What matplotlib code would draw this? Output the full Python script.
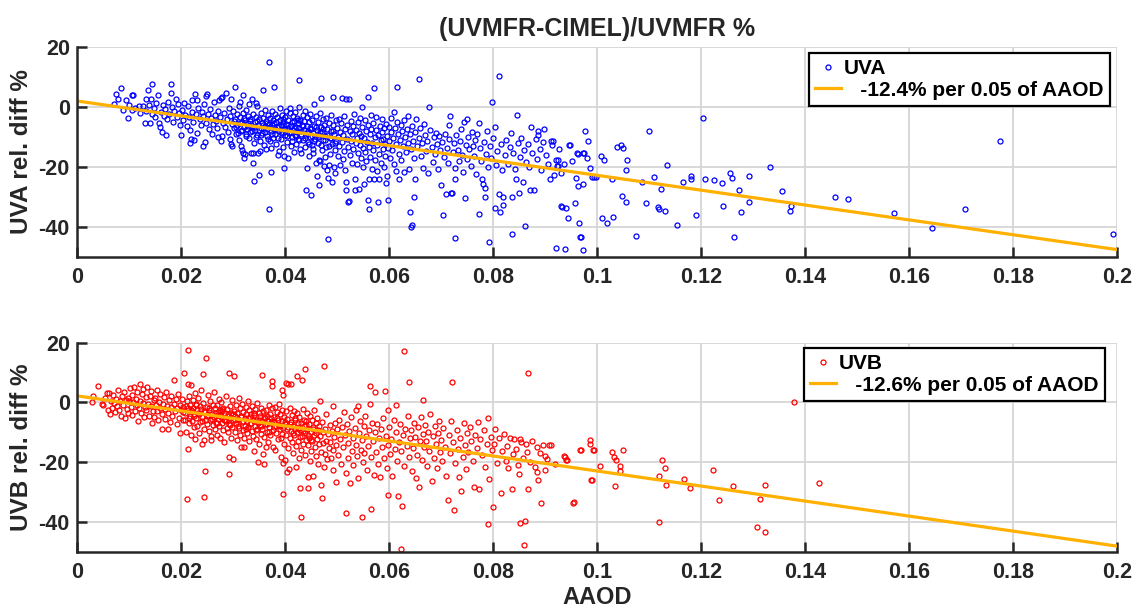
import matplotlib
matplotlib.use("Agg")
import matplotlib.pyplot as plt
import numpy as np

# (AAOD, relative difference %)
uva_points = [
    (0.0072, 0.8), (0.0076, 4.2), (0.0080, 2.6), (0.0085, 6.2), (0.0089, -1.0), (0.0094, 2.3), (0.0099, -3.9),
    (0.0101, 0.5), (0.0106, 3.8), (0.0108, 3.8), (0.0106, -1.1), (0.0112, -0.3), (0.0119, 0.2), (0.0122, -2.2),
    (0.0128, 0.2), (0.0131, -5.3), (0.0134, 2.4), (0.0134, -1.6), (0.0137, 5.7), (0.0138, 0.6), (0.0140, -5.3),
    (0.0142, 2.7), (0.0144, 7.7), (0.0145, -2.5), (0.0148, -0.6), (0.0150, -3.3), (0.0153, 1.1), (0.0156, 3.8),
    (0.0158, -5.3), (0.0160, -6.9), (0.0162, -1.8), (0.0164, -8.4), (0.0166, 0.4), (0.0168, -3.0), (0.0170, -0.9),
    (0.0172, -9.6), (0.0174, -4.1), (0.0176, 1.6), (0.0178, -2.4), (0.0181, 7.7), (0.0181, 4.4), (0.0183, -0.2),
    (0.0185, -5.0), (0.0187, -1.5), (0.0190, 2.6), (0.0192, -3.6), (0.0195, 0.9), (0.0197, -2.1), (0.0199, -6.2),
    (0.0201, -9.6),
    (0.0203, -1.0), (0.0205, -4.4), (0.0207, 1.3), (0.0209, -2.8), (0.0211, -6.5), (0.0213, 0.2), (0.0215, -3.5),
    (0.0217, -7.8), (0.0218, -12.0), (0.0219, -10.7), (0.0221, -1.7), (0.0222, 2.2), (0.0224, -5.0), (0.0226, -11.1),
    (0.0228, 4.2), (0.0229, -2.6), (0.0231, 2.1), (0.0232, -8.8), (0.0234, -0.5), (0.0236, -4.0), (0.0238, -6.1),
    (0.0240, -1.9), (0.0242, -3.0), (0.0243, -13.1), (0.0245, 0.8), (0.0246, -11.9), (0.0248, -5.4), (0.0249, 3.6),
    (0.0251, 4.2), (0.0252, -2.4), (0.0254, -7.3), (0.0256, -0.9), (0.0258, -3.8), (0.0260, -9.2), (0.0261, -5.9),
    (0.0263, 1.5), (0.0265, -2.9), (0.0267, -4.7), (0.0269, -7.0), (0.0271, -1.3), (0.0272, -10.1), (0.0274, 2.1),
    (0.0275, -3.4), (0.0277, 2.8), (0.0278, -11.4), (0.0279, -9.8), (0.0280, 3.3), (0.0281, -5.6), (0.0283, -2.0),
    (0.0285, -6.7), (0.0287, 4.4), (0.0288, -4.2), (0.0290, -8.4), (0.0292, -0.4), (0.0294, -10.7), (0.0295, -3.1),
    (0.0296, -12.6), (0.0297, 2.6), (0.0298, -5.8), (0.0299, -13.1),
    (0.0301, -1.6), (0.0302, -7.2), (0.0304, 6.4), (0.0305, -4.0), (0.0306, -9.0), (0.0308, -2.6), (0.0309, -6.0),
    (0.0311, 0.3), (0.0312, -11.0), (0.0313, -3.5), (0.0314, 1.6), (0.0315, -8.0), (0.0316, -13.1), (0.0317, -5.1),
    (0.0318, -14.6), (0.0319, -15.6), (0.0319, 3.8), (0.0320, -2.0), (0.0321, -6.8), (0.0322, -17.3), (0.0323, -4.4),
    (0.0324, -15.9), (0.0325, -9.8), (0.0326, -1.2), (0.0327, -7.5), (0.0329, -3.0), (0.0330, -5.6), (0.0331, -10.4),
    (0.0332, 0.9), (0.0333, -8.6), (0.0334, -4.0), (0.0335, -15.6), (0.0336, -6.3), (0.0337, 2.6), (0.0338, -18.8),
    (0.0338, -15.6), (0.0339, -2.4), (0.0340, -12.2), (0.0341, -24.8), (0.0342, -5.0), (0.0343, -7.9), (0.0344, -3.3),
    (0.0345, 1.1), (0.0346, -9.5), (0.0347, 0.2), (0.0348, -6.0), (0.0349, -15.3), (0.0350, -4.2), (0.0351, -22.8),
    (0.0352, -11.3), (0.0353, -14.7), (0.0354, -7.0), (0.0355, -2.0), (0.0356, -5.4), (0.0357, -8.8), (0.0358, 5.6),
    (0.0359, -3.7), (0.0360, -12.8), (0.0361, -6.5), (0.0362, -1.0), (0.0363, -14.0), (0.0364, -4.8), (0.0365, -9.9),
    (0.0366, -7.4), (0.0367, -2.9), (0.0369, -34.3), (0.0369, -5.8), (0.0370, 14.9), (0.0371, -11.6), (0.0372, -3.8),
    (0.0373, -21.7), (0.0373, -8.2), (0.0374, -13.8), (0.0375, -6.1), (0.0376, -1.6), (0.0377, -10.5), (0.0378, -4.5),
    (0.0379, -7.3), (0.0380, 6.4), (0.0381, -2.4), (0.0382, -9.1), (0.0383, -5.2), (0.0384, -12.3), (0.0385, -3.4),
    (0.0386, -6.9), (0.0387, -16.1), (0.0388, -14.9), (0.0389, -8.0), (0.0390, -0.5), (0.0391, -4.6), (0.0392, -10.9),
    (0.0393, -6.2), (0.0394, -2.8), (0.0395, -8.7), (0.0396, -5.0), (0.0397, -13.5), (0.0398, -7.6), (0.0399, -16.6),
    (0.0399, -20.6),
    (0.0303, -4.8), (0.0307, -6.9), (0.0310, -8.8), (0.0314, -5.5), (0.0318, -7.9), (0.0322, -3.9), (0.0326, -9.1),
    (0.0329, -6.4), (0.0333, -4.7), (0.0337, -8.1), (0.0340, -6.7), (0.0344, -10.1), (0.0347, -4.9), (0.0351, -7.7),
    (0.0355, -9.4), (0.0358, -6.2), (0.0362, -8.5), (0.0365, -5.3), (0.0368, -10.8), (0.0372, -6.8), (0.0375, -9.0),
    (0.0379, -5.6), (0.0382, -7.9), (0.0386, -10.3), (0.0389, -6.6), (0.0393, -8.4), (0.0396, -4.1),
    (0.0400, -3.6), (0.0401, -9.4), (0.0402, -5.8), (0.0403, -1.3), (0.0404, -11.8), (0.0405, -7.1), (0.0406, -17.0),
    (0.0407, -4.3), (0.0408, -8.9), (0.0409, -2.2), (0.0410, -0.6), (0.0411, -6.4), (0.0412, -13.0), (0.0413, -5.1),
    (0.0414, -10.1), (0.0415, -3.0), (0.0416, -7.7), (0.0417, -15.2), (0.0418, -4.9), (0.0419, -9.6), (0.0420, -1.9),
    (0.0421, -6.8), (0.0422, -12.4), (0.0423, -3.9), (0.0424, -8.3), (0.0425, -5.5), (0.0426, -10.8), (0.0427, 0.0),
    (0.0428, 8.9), (0.0428, -7.2), (0.0429, -14.1), (0.0430, -4.4), (0.0431, -9.0), (0.0432, -15.6), (0.0433, -6.0),
    (0.0434, -2.7), (0.0435, -11.2), (0.0436, -7.9), (0.0437, -4.8), (0.0438, -13.3), (0.0439, -1.4), (0.0440, -9.3),
    (0.0441, -27.7), (0.0442, -20.6), (0.0442, -6.6), (0.0443, -3.5), (0.0444, -11.7), (0.0445, -8.1), (0.0446, -5.2),
    (0.0447, -16.4), (0.0448, -10.2), (0.0449, -2.5), (0.0450, -7.4), (0.0451, -29.4), (0.0452, -12.9), (0.0453, -4.6),
    (0.0454, -14.0), (0.0454, -15.3), (0.0455, -8.7), (0.0456, 0.9), (0.0457, -6.3), (0.0458, -10.9), (0.0459, -3.2),
    (0.0460, -18.7), (0.0461, -7.8), (0.0462, -23.2), (0.0463, -5.0), (0.0464, -12.1), (0.0465, -17.9), (0.0465, -26.2),
    (0.0466, -9.4), (0.0467, -18.2), (0.0468, -2.0), (0.0469, -6.7), (0.0470, 2.8), (0.0471, -14.6), (0.0472, -8.3),
    (0.0473, -4.1), (0.0474, -11.0), (0.0475, -19.9), (0.0476, -6.0), (0.0477, -16.9), (0.0478, -9.8), (0.0479, -3.7),
    (0.0480, -13.6), (0.0481, -7.3), (0.0482, -21.0), (0.0483, -23.9), (0.0483, -44.0), (0.0484, -5.4), (0.0485, -19.4),
    (0.0486, -10.6), (0.0487, -15.8), (0.0488, -2.9), (0.0489, -8.0), (0.0490, -25.3), (0.0491, -12.5), (0.0492, -6.2),
    (0.0493, 3.1), (0.0494, -20.2), (0.0495, -9.1), (0.0496, -14.3), (0.0497, -22.1), (0.0498, -4.5), (0.0499, -11.4),
    (0.0400, -7.5), (0.0404, -9.7), (0.0407, -6.1), (0.0411, -8.6), (0.0414, -11.5), (0.0418, -7.0), (0.0421, -9.9),
    (0.0425, -4.6), (0.0428, -11.0), (0.0432, -8.1), (0.0435, -6.5), (0.0439, -10.6), (0.0442, -8.8), (0.0446, -12.3),
    (0.0449, -7.0), (0.0453, -9.8), (0.0456, -11.6), (0.0460, -6.8), (0.0463, -10.0), (0.0467, -8.5), (0.0470, -12.8),
    (0.0474, -7.6), (0.0478, -11.2), (0.0481, -9.3), (0.0485, -13.0), (0.0489, -10.4), (0.0493, -8.2), (0.0497, -12.0),
    (0.0501, -7.0), (0.0502, -16.5), (0.0503, -10.0), (0.0504, -4.0), (0.0505, -13.2), (0.0506, -19.5), (0.0507, -8.6),
    (0.0508, -5.6), (0.0509, -11.9), (0.0510, 2.8), (0.0511, -17.4), (0.0512, -9.6), (0.0513, -3.0), (0.0514, -14.8),
    (0.0515, -7.5), (0.0516, -21.0), (0.0517, -25.0), (0.0517, -27.7), (0.0518, 2.7), (0.0519, -10.9), (0.0520, -6.2),
    (0.0521, -31.9), (0.0522, -13.6), (0.0523, 2.7), (0.0524, -31.6), (0.0525, -8.2), (0.0526, -16.0), (0.0527, -4.8),
    (0.0528, -11.4), (0.0529, -18.7), (0.0530, -9.0), (0.0531, -6.5), (0.0532, -14.1), (0.0533, -2.3), (0.0534, -27.7),
    (0.0535, -24.0), (0.0536, -12.0), (0.0537, -7.8), (0.0538, -19.0), (0.0539, -10.3), (0.0540, -5.1), (0.0541, -15.5),
    (0.0542, -8.9), (0.0543, -27.4), (0.0544, -12.8), (0.0545, -3.7), (0.0546, -17.2), (0.0547, -9.8), (0.0548, 0.0),
    (0.0549, -6.9), (0.0550, -13.9), (0.0551, -20.3), (0.0552, -25.8), (0.0553, -10.6), (0.0554, -4.5), (0.0555, -15.0),
    (0.0556, -8.0), (0.0557, -18.3), (0.0558, -11.7), (0.0559, 3.1), (0.0559, -31.0), (0.0560, -6.0), (0.0561, -34.1),
    (0.0561, -24.0), (0.0562, -13.3), (0.0563, -9.2), (0.0564, -16.7), (0.0565, -2.8), (0.0566, -7.4), (0.0567, -20.8),
    (0.0568, -12.2), (0.0569, -5.3), (0.0570, -14.6), (0.0572, 6.2), (0.0572, -24.0), (0.0573, -10.1), (0.0574, -17.8),
    (0.0575, -7.9), (0.0576, -3.5), (0.0577, -12.9), (0.0578, -21.4), (0.0579, -9.5), (0.0580, -31.9), (0.0581, -15.7),
    (0.0582, -24.0), (0.0583, -6.6), (0.0584, -11.1), (0.0585, -18.9), (0.0586, -4.2), (0.0587, -8.6), (0.0588, -14.0),
    (0.0589, -10.7), (0.0590, -20.0), (0.0591, -7.1), (0.0592, -12.5), (0.0593, -16.3), (0.0594, -5.8), (0.0595, -25.4),
    (0.0596, -9.9), (0.0597, -23.1), (0.0598, -13.7), (0.0599, -31.2),
    (0.0600, -6.8), (0.0601, -11.5), (0.0603, -17.0), (0.0604, -3.9), (0.0605, -8.4), (0.0607, -14.4), (0.0608, -10.3),
    (0.0609, -1.9), (0.0610, -19.2), (0.0612, -7.0), (0.0613, -21.6), (0.0614, -12.6), (0.0615, 6.7), (0.0616, -5.0),
    (0.0618, -9.2), (0.0619, -15.9), (0.0620, -24.3), (0.0621, -11.0), (0.0623, -6.0), (0.0624, -17.8), (0.0626, -8.1),
    (0.0627, -13.2), (0.0629, -21.7), (0.0630, -4.6), (0.0631, -10.0), (0.0633, -15.1), (0.0634, -7.4), (0.0636, -12.0),
    (0.0637, -3.2), (0.0639, -20.8), (0.0640, -35.0), (0.0641, -9.0), (0.0642, -40.3), (0.0643, -14.0), (0.0645, -39.6),
    (0.0645, -6.3), (0.0647, -11.3), (0.0648, -30.3), (0.0649, -17.2), (0.0650, -24.3), (0.0651, -8.3), (0.0653, -4.0),
    (0.0655, -13.0), (0.0657, 9.3), (0.0658, -10.5), (0.0660, -7.0), (0.0662, -16.3), (0.0664, -12.2), (0.0666, -20.5),
    (0.0668, -5.7), (0.0670, -9.4), (0.0672, -14.8), (0.0674, -11.5), (0.0676, -22.0), (0.0678, 0.0), (0.0680, -7.9),
    (0.0682, -13.5), (0.0684, -18.4), (0.0686, -10.2), (0.0688, -15.9), (0.0690, -8.7), (0.0692, -12.6), (0.0694, -20.9),
    (0.0696, -9.9), (0.0698, -14.3), (0.0700, -26.2),
    (0.0702, -11.8), (0.0704, -36.2), (0.0706, -16.8), (0.0708, -9.0), (0.0709, -29.3), (0.0711, -13.9), (0.0713, -18.8),
    (0.0715, -10.7), (0.0716, -6.0), (0.0718, -3.1), (0.0720, -28.7), (0.0722, -28.7), (0.0723, -15.2), (0.0725, -12.0),
    (0.0727, -20.4), (0.0728, -24.0), (0.0728, -43.9), (0.0730, -9.6), (0.0732, -14.5), (0.0734, -18.0), (0.0736, -11.3),
    (0.0738, -7.5), (0.0740, -16.1), (0.0742, -21.9), (0.0744, -5.2), (0.0746, -30.6), (0.0748, -12.7), (0.0750, -17.4),
    (0.0751, -4.1), (0.0753, -10.0), (0.0755, -14.0), (0.0757, -19.8), (0.0760, -8.6), (0.0762, -13.1), (0.0764, -16.6),
    (0.0766, -11.1), (0.0768, -22.5), (0.0770, -9.2), (0.0773, -5.6), (0.0774, -35.8), (0.0776, -13.8), (0.0778, -18.2),
    (0.0779, -24.0), (0.0781, -25.7), (0.0783, -11.9), (0.0785, -27.3), (0.0785, -30.3), (0.0787, -15.7), (0.0789, -8.0),
    (0.0791, -20.0), (0.0793, -45.1), (0.0795, -13.0), (0.0797, -17.0), (0.0799, 1.4),
    (0.0801, -10.4), (0.0804, -6.9), (0.0804, -33.7), (0.0806, -19.4), (0.0808, -14.8), (0.0811, -29.3), (0.0812, 10.3),
    (0.0814, -35.3), (0.0816, -12.4), (0.0818, -21.3), (0.0820, -32.9), (0.0820, -30.0), (0.0823, -16.0), (0.0826, -11.0),
    (0.0829, -19.0), (0.0832, -13.5), (0.0834, -8.9), (0.0836, -30.0), (0.0837, -42.6), (0.0839, -15.3), (0.0842, -20.8),
    (0.0845, -24.1), (0.0846, -2.7), (0.0848, -12.0), (0.0850, -28.7), (0.0852, -16.9), (0.0855, -10.3), (0.0857, -25.2),
    (0.0859, -14.4), (0.0861, -39.9), (0.0864, -18.5), (0.0867, -12.6), (0.0869, -20.3), (0.0871, -27.9), (0.0873, -6.9),
    (0.0876, -15.5), (0.0879, -27.7), (0.0882, -10.7), (0.0884, -17.6), (0.0886, -8.1), (0.0887, -9.4), (0.0890, -14.1),
    (0.0893, -21.2), (0.0896, -11.8), (0.0899, -7.4), (0.0902, -16.2), (0.0905, -19.0), (0.0909, -24.0), (0.0912, -11.4),
    (0.0914, -12.8), (0.0915, -11.6), (0.0918, -22.7), (0.0921, -47.0), (0.0922, -17.8), (0.0924, -19.8), (0.0925, -17.9),
    (0.0925, -19.7), (0.0928, -14.0), (0.0931, -33.3), (0.0931, -22.3), (0.0933, -33.4), (0.0936, -19.2), (0.0938, -47.4),
    (0.0940, -33.9), (0.0945, -37.2), (0.0947, -12.8), (0.0949, -12.9), (0.0952, -18.3), (0.0957, -32.1), (0.0959, -23.8),
    (0.0961, -15.6), (0.0963, -15.7), (0.0964, -26.4), (0.0966, -38.9), (0.0968, -43.4), (0.0970, -43.6), (0.0973, -15.3),
    (0.0973, -25.9), (0.0973, -47.8), (0.0975, -15.4), (0.0978, -8.2), (0.0981, -17.3), (0.0982, -11.4), (0.0986, -20.6),
    (0.0990, -23.4), (0.0995, -23.5), (0.0999, -23.4),
    (0.1008, -16.4), (0.1010, -37.3), (0.1014, -17.9), (0.1019, -38.8), (0.1029, -24.2), (0.1031, -36.7), (0.1038, -13.4),
    (0.1046, -12.9), (0.1048, -29.9), (0.1050, -13.8), (0.1055, -21.2), (0.1055, -31.8), (0.1058, -17.9), (0.1075, -43.3),
    (0.1086, -25.3), (0.1095, -32.2), (0.1101, -8.0), (0.1109, -23.6), (0.1117, -33.6), (0.1119, -34.0), (0.1123, -27.4),
    (0.1131, -34.7), (0.1134, -19.4), (0.1154, -39.4), (0.1165, -25.3), (0.1180, -23.3), (0.1181, -24.1), (0.1190, -36.3),
    (0.1203, -3.7), (0.1207, -24.3), (0.1225, -24.6), (0.1240, -25.4), (0.1243, -33.0), (0.1256, -22.3), (0.1260, -23.7),
    (0.1264, -43.6), (0.1274, -27.7), (0.1277, -35.2), (0.1293, -23.1), (0.1293, -31.8), (0.1333, -20.0), (0.1356, -28.2),
    (0.1372, -34.7), (0.1373, -33.2), (0.1458, -30.3), (0.1483, -30.8), (0.1571, -35.6), (0.1645, -40.4), (0.1708, -34.2),
    (0.1775, -11.6), (0.1993, -42.6),
]

uvb_points = [
    (0.0029, 0.2), (0.0031, 2.2), (0.0041, 5.6), (0.0048, -0.6), (0.0051, -0.9), (0.0055, 1.6), (0.0058, 3.3),
    (0.0060, -2.4), (0.0062, 3.0), (0.0063, -4.0), (0.0065, 0.6), (0.0067, -1.8), (0.0069, 2.4), (0.0071, -0.2),
    (0.0073, -3.2), (0.0075, 1.2), (0.0077, -1.2), (0.0079, 4.1), (0.0081, -2.6), (0.0083, 0.3), (0.0085, -4.7),
    (0.0087, 2.0), (0.0088, -1.0), (0.0090, 3.4), (0.0092, -5.2), (0.0094, 0.9), (0.0096, -2.2), (0.0098, 1.6),
    (0.0099, -3.6),
    (0.0101, 0.4), (0.0103, 4.8), (0.0104, -1.4), (0.0106, 2.5), (0.0107, -4.2), (0.0109, 0.0), (0.0110, 5.2),
    (0.0112, -2.9), (0.0113, 1.3), (0.0115, -0.8), (0.0116, 3.6), (0.0118, -6.3), (0.0119, -1.9), (0.0121, 6.2),
    (0.0122, 0.6), (0.0124, -3.4), (0.0125, 2.9), (0.0127, -0.3), (0.0128, 4.5), (0.0130, -5.0), (0.0131, -1.6),
    (0.0133, 1.8), (0.0134, -2.6), (0.0136, 5.0), (0.0137, -0.5), (0.0139, -4.4), (0.0140, 2.2), (0.0142, -1.1),
    (0.0143, 3.9), (0.0145, -7.0), (0.0146, -2.8), (0.0148, 0.9), (0.0149, -4.8), (0.0151, 1.5), (0.0152, -0.9),
    (0.0154, 4.2), (0.0155, -3.0), (0.0157, -6.0), (0.0158, 0.2), (0.0160, -1.8), (0.0161, 2.7), (0.0163, -4.0),
    (0.0164, -8.8), (0.0166, -0.6), (0.0167, 1.9), (0.0169, -2.3), (0.0170, -5.6), (0.0172, 3.4), (0.0173, -1.2),
    (0.0175, -9.0), (0.0176, -3.4), (0.0178, 0.7), (0.0179, -6.6), (0.0181, 2.0), (0.0182, -1.5), (0.0184, -4.6),
    (0.0186, 7.4), (0.0187, -0.4), (0.0189, -3.0), (0.0190, 1.3), (0.0192, -7.4), (0.0193, -2.0), (0.0195, 2.7),
    (0.0196, -5.1), (0.0198, -0.8), (0.0199, -10.3),
    (0.0201, -2.6), (0.0202, 1.0), (0.0204, -5.9), (0.0205, -1.4), (0.0207, 9.9), (0.0208, -5.9), (0.0209, -3.4),
    (0.0210, -9.9), (0.0211, 0.3), (0.0212, -32.3), (0.0213, 17.7), (0.0213, 6.3), (0.0213, -15.6), (0.0214, -2.0),
    (0.0215, -7.0), (0.0216, 2.0), (0.0217, -4.4), (0.0218, -0.8), (0.0219, -11.0), (0.0220, 5.8), (0.0221, -3.0),
    (0.0222, -6.2), (0.0223, 0.9), (0.0224, -1.9), (0.0225, -8.4), (0.0226, -4.0), (0.0227, 3.0), (0.0228, -12.2),
    (0.0229, -0.4), (0.0230, -5.4), (0.0231, -2.6), (0.0232, -7.8), (0.0233, 1.6), (0.0234, -3.6), (0.0235, -10.2),
    (0.0236, -1.2), (0.0237, -6.6), (0.0238, 4.0), (0.0239, -2.2), (0.0240, -14.0), (0.0241, -4.8), (0.0242, -0.2),
    (0.0243, 9.4), (0.0244, -8.9), (0.0245, -12.7), (0.0245, -31.8), (0.0246, -3.1), (0.0247, -23.0), (0.0248, -5.9),
    (0.0249, 14.8), (0.0250, -1.5), (0.0251, -7.2), (0.0252, 2.4), (0.0253, -4.1), (0.0254, -9.6), (0.0255, -2.7),
    (0.0256, -6.0), (0.0257, 0.6), (0.0258, -11.3), (0.0259, -12.7), (0.0260, -3.8), (0.0261, -1.0), (0.0262, -7.7),
    (0.0263, -5.0), (0.0264, 3.4), (0.0265, -2.0), (0.0266, -9.0), (0.0267, -4.4), (0.0268, -6.8), (0.0269, -0.8),
    (0.0270, -10.8), (0.0271, -3.3), (0.0272, -5.5), (0.0273, 1.2), (0.0274, -8.0), (0.0275, -2.5), (0.0276, -12.0),
    (0.0277, -4.9), (0.0278, 0.0), (0.0279, -7.0), (0.0280, -3.0), (0.0281, -9.4), (0.0282, -1.8), (0.0283, -5.8),
    (0.0284, -13.4), (0.0285, -3.7), (0.0286, 2.0), (0.0287, -6.4), (0.0288, -8.6), (0.0289, -2.3), (0.0290, -10.0),
    (0.0291, -4.6), (0.0292, 9.9), (0.0292, -18.4), (0.0292, -23.9), (0.0293, -7.3), (0.0294, -1.2), (0.0295, -5.2),
    (0.0296, -11.8), (0.0297, -3.4), (0.0298, 0.8), (0.0299, -8.1),
    (0.0205, -3.3), (0.0210, -1.1), (0.0215, -5.2), (0.0220, -2.6), (0.0225, -4.6), (0.0230, -0.9), (0.0235, -3.9),
    (0.0240, -6.3), (0.0245, -2.9), (0.0250, -4.7), (0.0255, -1.8), (0.0260, -5.6), (0.0265, -3.6), (0.0270, -6.8),
    (0.0275, -4.2), (0.0280, -2.1), (0.0285, -6.0), (0.0290, -4.0), (0.0295, -7.5),
    (0.0300, -6.0), (0.0301, -18.9), (0.0302, -2.8), (0.0303, 8.9), (0.0304, -9.8), (0.0305, -4.5), (0.0306, -1.0),
    (0.0307, -7.0), (0.0308, -12.6), (0.0309, -3.6), (0.0310, -5.6), (0.0311, 1.6), (0.0312, -8.6), (0.0313, -2.0),
    (0.0314, -10.8), (0.0315, -14.9), (0.0316, -4.8), (0.0317, -6.6), (0.0318, -0.4), (0.0319, -9.2), (0.0320, -3.2),
    (0.0321, -12.0), (0.0322, -14.9), (0.0323, -5.4), (0.0324, -7.8), (0.0325, -1.6), (0.0326, -4.0), (0.0327, -10.4),
    (0.0328, -6.2), (0.0329, 0.6), (0.0330, -8.4), (0.0331, -2.6), (0.0332, -13.0), (0.0333, -5.0), (0.0334, -7.2),
    (0.0335, -3.8), (0.0336, -9.6), (0.0337, -1.2), (0.0338, -11.2), (0.0339, -6.0), (0.0340, -16.2), (0.0341, -4.2),
    (0.0342, -8.0), (0.0343, -2.2), (0.0344, -12.4), (0.0345, -5.8), (0.0346, -0.2), (0.0347, -9.0), (0.0348, -6.8),
    (0.0349, -20.0), (0.0350, -3.4), (0.0351, -14.0), (0.0352, -7.6), (0.0353, -4.6), (0.0354, -10.6), (0.0355, -1.8),
    (0.0356, 9.2), (0.0356, -6.4), (0.0357, -8.8), (0.0358, -17.2), (0.0359, -3.0), (0.0360, -20.6), (0.0360, -11.6),
    (0.0361, -5.4), (0.0362, -7.4), (0.0363, -15.0), (0.0364, -2.6), (0.0365, -9.8), (0.0366, -4.4), (0.0367, -6.2),
    (0.0368, -13.2), (0.0369, -0.8), (0.0370, -8.2), (0.0371, -3.8), (0.0372, -11.0), (0.0373, -5.2), (0.0374, -7.0),
    (0.0375, -2.0), (0.0376, 7.1), (0.0376, 5.6), (0.0377, -14.9), (0.0378, -9.4), (0.0379, -4.8), (0.0380, -6.6),
    (0.0381, -16.0), (0.0382, -1.4), (0.0383, -10.2), (0.0384, -8.0), (0.0385, -3.2), (0.0386, -12.4), (0.0387, -5.8),
    (0.0388, -7.6), (0.0389, -0.4), (0.0390, -9.0), (0.0391, -4.0), (0.0392, -18.2), (0.0393, -11.8), (0.0394, 4.1),
    (0.0394, -6.4), (0.0395, -2.4), (0.0396, 2.4), (0.0396, -20.3), (0.0397, -30.8), (0.0397, -8.6), (0.0398, -13.8),
    (0.0399, -5.0),
    (0.0300, -3.8), (0.0305, -5.9), (0.0310, -8.0), (0.0315, -4.4), (0.0320, -6.4), (0.0325, -8.9), (0.0330, -5.2),
    (0.0335, -7.0), (0.0340, -3.6), (0.0345, -9.2), (0.0350, -6.0), (0.0355, -8.0), (0.0360, -4.8), (0.0365, -7.2),
    (0.0370, -10.0), (0.0375, -6.2), (0.0380, -8.4), (0.0385, -5.4), (0.0390, -7.8), (0.0395, -10.6),
    (0.0400, -19.4), (0.0401, -7.2), (0.0402, 6.6), (0.0402, -3.0), (0.0403, -10.8), (0.0404, -23.4), (0.0405, -5.6),
    (0.0406, 6.3), (0.0406, -8.4), (0.0407, -15.2), (0.0408, -22.3), (0.0409, -1.8), (0.0410, -12.0), (0.0411, 6.1),
    (0.0411, -6.6), (0.0412, -9.6), (0.0413, -4.2), (0.0414, -13.4), (0.0415, -7.8), (0.0416, -17.0), (0.0417, -2.8),
    (0.0418, -11.0), (0.0419, -5.4), (0.0420, -8.8), (0.0421, -21.8), (0.0422, -14.6), (0.0423, -3.6), (0.0424, 9.0),
    (0.0424, -10.0), (0.0425, -6.8), (0.0426, -12.8), (0.0427, -18.6), (0.0428, -4.8), (0.0429, -28.8), (0.0430, -9.2),
    (0.0431, -38.4), (0.0431, -7.0), (0.0432, -15.8), (0.0433, 7.6), (0.0433, -11.4), (0.0434, -2.2), (0.0435, -13.8),
    (0.0436, -8.0), (0.0437, -5.8), (0.0438, 11.2), (0.0438, -17.8), (0.0439, -10.4), (0.0440, -6.2), (0.0441, -12.6),
    (0.0442, -3.4), (0.0443, -9.0), (0.0444, -28.7), (0.0445, -25.1), (0.0445, -14.4), (0.0446, -7.4), (0.0447, -11.8),
    (0.0448, -19.6), (0.0449, -4.6), (0.0450, -9.8), (0.0451, -16.2), (0.0452, -6.0), (0.0453, -13.0), (0.0454, -24.7),
    (0.0455, -8.4), (0.0456, -10.8), (0.0457, -2.6), (0.0458, -15.0), (0.0459, -7.0), (0.0460, -18.0), (0.0461, -12.2),
    (0.0462, -5.2), (0.0463, -9.4), (0.0464, -20.8), (0.0465, -14.0), (0.0466, -8.0), (0.0467, 0.4), (0.0468, -11.2),
    (0.0469, -27.8), (0.0470, -16.8), (0.0471, -32.2), (0.0472, -6.6), (0.0473, -13.6), (0.0474, -10.0), (0.0475, -21.8),
    (0.0476, 12.1), (0.0477, -17.4), (0.0478, -8.8), (0.0479, -12.8), (0.0480, -4.0), (0.0482, -19.0), (0.0483, -10.6),
    (0.0484, -15.4), (0.0486, -7.6), (0.0487, -13.2), (0.0489, -18.6), (0.0490, -9.6), (0.0492, -1.1), (0.0492, -22.7),
    (0.0493, -16.0), (0.0495, -11.6), (0.0496, -6.8), (0.0498, -26.8), (0.0499, -14.4),
    (0.0400, -6.6), (0.0405, -9.0), (0.0410, -7.4), (0.0415, -10.2), (0.0420, -6.0), (0.0425, -8.6), (0.0430, -11.6),
    (0.0435, -9.6), (0.0440, -7.6), (0.0445, -11.0), (0.0450, -12.6), (0.0455, -9.0), (0.0460, -10.4),
    (0.0501, -9.0), (0.0503, -17.6), (0.0505, -5.8), (0.0506, -12.4), (0.0508, -20.8), (0.0510, -8.2), (0.0511, -15.0),
    (0.0513, -3.2), (0.0515, -11.0), (0.0517, -23.8), (0.0518, -37.1), (0.0519, -7.2), (0.0521, -18.8), (0.0522, -13.6),
    (0.0524, -9.6), (0.0526, -27.0), (0.0527, -5.0), (0.0529, -16.4), (0.0531, -11.8), (0.0532, -21.0), (0.0534, -8.6),
    (0.0536, -14.2), (0.0537, -2.6), (0.0539, -18.0), (0.0540, -1.3), (0.0541, -25.4), (0.0542, -10.4), (0.0544, -6.4),
    (0.0546, -15.8), (0.0548, -38.4), (0.0548, -12.6), (0.0550, -20.0), (0.0552, -8.0), (0.0553, -17.0), (0.0555, -4.4),
    (0.0557, -11.2), (0.0558, -22.6), (0.0560, -14.6), (0.0562, -9.2), (0.0563, 5.4), (0.0564, -0.4), (0.0565, -18.4),
    (0.0566, -35.6), (0.0567, -6.8), (0.0569, -13.0), (0.0571, -24.4), (0.0573, -10.0), (0.0574, 3.4), (0.0575, -16.6),
    (0.0577, -7.4), (0.0579, -20.6), (0.0581, -12.0), (0.0583, -25.0), (0.0585, -9.0), (0.0587, -15.0), (0.0589, -5.2),
    (0.0591, -18.8), (0.0593, 3.7), (0.0594, -11.4), (0.0596, -22.0), (0.0598, -14.2), (0.0599, -2.7), (0.0599, -31.2),
    (0.0601, -8.4), (0.0603, -17.4), (0.0605, -12.2), (0.0607, -24.6), (0.0609, -6.0), (0.0611, -15.6), (0.0613, -10.0),
    (0.0614, -0.8), (0.0616, -19.8), (0.0617, -31.3), (0.0619, -13.4), (0.0621, -7.2), (0.0623, -49.0), (0.0624, -16.4),
    (0.0626, -34.9), (0.0627, -11.0), (0.0629, -21.4), (0.0630, 17.3), (0.0632, -8.8), (0.0634, -14.6), (0.0636, -4.6),
    (0.0638, -18.2), (0.0639, 6.8), (0.0641, -12.0), (0.0643, -9.4), (0.0645, -23.0), (0.0647, -15.4), (0.0649, -6.8),
    (0.0650, -11.6), (0.0652, -25.3), (0.0654, -17.8), (0.0656, -8.2), (0.0657, -28.4), (0.0659, -13.0), (0.0661, -5.0),
    (0.0663, -19.2), (0.0665, -10.6), (0.0666, 0.8), (0.0668, -15.0), (0.0670, -7.6), (0.0672, -12.8), (0.0674, -21.2),
    (0.0676, -9.8), (0.0678, -16.2), (0.0680, -4.0), (0.0682, -26.2), (0.0684, -11.4), (0.0686, -18.6), (0.0688, -8.0),
    (0.0690, -14.0), (0.0692, -22.0), (0.0694, -10.2), (0.0696, -6.2), (0.0698, -16.8),
    (0.0700, -12.6), (0.0703, -19.6), (0.0705, -8.6), (0.0708, -14.8), (0.0710, -24.8), (0.0713, -32.8), (0.0715, -10.8),
    (0.0718, -17.0), (0.0720, -6.4), (0.0722, 6.8), (0.0724, -13.4), (0.0726, -36.1), (0.0728, -20.2), (0.0731, -9.4),
    (0.0733, -15.6), (0.0735, -25.0), (0.0737, -11.8), (0.0739, -29.7), (0.0742, -18.4), (0.0744, -7.0), (0.0746, -14.2),
    (0.0749, -22.4), (0.0751, -10.4), (0.0753, -16.6), (0.0756, -8.2), (0.0758, -13.0), (0.0761, -19.8), (0.0764, -28.3),
    (0.0766, -11.0), (0.0769, -15.2), (0.0771, -6.6), (0.0774, -29.0), (0.0776, -12.2), (0.0779, -17.6), (0.0782, -9.2),
    (0.0785, -21.8), (0.0788, -14.0), (0.0790, -5.4), (0.0790, -40.8), (0.0793, -25.6), (0.0796, -11.6), (0.0799, -16.0),
    (0.0800, -35.1), (0.0803, -13.8), (0.0805, -8.9), (0.0808, -20.4), (0.0811, -12.0), (0.0815, -30.4), (0.0818, -16.4),
    (0.0821, -10.6), (0.0825, -19.8), (0.0828, -14.6), (0.0830, -22.0), (0.0833, -11.8), (0.0836, -28.9), (0.0838, -17.4),
    (0.0841, -12.2), (0.0845, -15.6), (0.0848, -21.1), (0.0850, -23.9), (0.0852, -40.4), (0.0853, -12.2), (0.0854, -13.4),
    (0.0857, -18.8), (0.0859, -47.9), (0.0861, -39.9), (0.0864, -14.0), (0.0866, -16.7), (0.0867, -28.9), (0.0868, 9.7),
    (0.0872, -20.0), (0.0876, -13.0), (0.0881, -21.8), (0.0885, -23.4), (0.0885, -14.9), (0.0886, -26.0), (0.0890, -17.0),
    (0.0892, -33.8), (0.0897, -14.3), (0.0900, -17.9), (0.0901, -22.7), (0.0904, -19.1), (0.0907, -14.3), (0.0912, -14.3),
    (0.0920, -20.5), (0.0936, -18.1), (0.0938, -18.3), (0.0941, -19.2), (0.0943, -19.4), (0.0954, -33.6), (0.0955, -33.4),
    (0.0968, -15.8), (0.0970, -15.8), (0.0986, -12.6), (0.0987, -14.0), (0.0989, -26.0), (0.0991, -26.1), (0.0993, -16.0),
    (0.0995, -16.0),
    (0.1005, -21.2), (0.1029, -16.8), (0.1032, -18.4), (0.1034, -28.2), (0.1037, -19.3), (0.1045, -21.2), (0.1045, -23.1),
    (0.1051, -16.0), (0.1120, -24.8), (0.1120, -40.2), (0.1126, -19.2), (0.1130, -22.0), (0.1132, -27.6), (0.1167, -25.7),
    (0.1178, -28.6), (0.1224, -22.8), (0.1234, -32.8), (0.1262, -28.0), (0.1308, -41.9), (0.1313, -32.3), (0.1323, -27.6),
    (0.1324, -43.3), (0.1378, 0.0), (0.1427, -27.0),
]

# fitted lines: end points over the x range
fit_aod = [0.0, 0.2]
uva_fit = [1.9, -47.7]
uvb_fit = [2.2, -48.2]

uva_label = "   -12.4% per 0.05 of AAOD"
uvb_label = "   -12.6% per 0.05 of AAOD"

x_ticks = [0, 0.02, 0.04, 0.06, 0.08, 0.1, 0.12, 0.14, 0.16, 0.18, 0.2]
x_tick_labels = ["0", "0.02", "0.04", "0.06", "0.08", "0.1", "0.12", "0.14", "0.16", "0.18", "0.2"]
y_ticks = [-40, -20, 0, 20]

plt.rcParams['font.family'] = ['Liberation Sans', 'DejaVu Sans']
plt.rcParams['font.weight'] = 'bold'
plt.rcParams['axes.unicode_minus'] = False

dark = '#262626'
orange = '#FFB000'

fig = plt.figure(figsize=(11.37, 6.08), dpi=100)
ax1 = fig.add_axes([0.0675, 0.5781, 0.9150, 0.3451])
ax2 = fig.add_axes([0.0675, 0.0929, 0.9150, 0.3434])

panels = [
    (ax1, uva_points, 'b', 'UVA', uva_fit, uva_label, "UVA rel. diff %", (0.9932, 0.970)),
    (ax2, uvb_points, 'r', 'UVB', uvb_fit, uvb_label, "UVB rel. diff %", (0.9884, 0.975)),
]

for ax, pts, col, name, fit, lab, ylab, anchor in panels:
    pts = np.array(pts)
    ax.plot(pts[:, 0], pts[:, 1], 'o', ls='none', ms=3.6, mew=0.9,
            mfc='none', mec=col, label=name)
    ax.plot(fit_aod, fit, '-', color=orange, lw=2.3, label=lab)

    ax.set_xlim(0, 0.2)
    ax.set_ylim(-50, 20)
    ax.set_xticks(x_ticks)
    ax.set_xticklabels(x_tick_labels)
    ax.set_yticks(y_ticks)
    ax.set_axisbelow(True)
    ax.grid(True, color='#d6d6d6', lw=1.3)

    for s in ['top', 'right']:
        ax.spines[s].set_visible(False)
    for s in ['left', 'bottom']:
        ax.spines[s].set_color(dark)
        ax.spines[s].set_linewidth(1.8)
    ax.tick_params(direction='in', length=7, width=1.8, colors=dark,
                   labelsize=15.5, top=False, right=False)
    ax.tick_params(axis='x', pad=7.5)
    ax.tick_params(axis='y', pad=5)
    for t in ax.get_xticklabels() + ax.get_yticklabels():
        t.set_fontweight('bold')

    ax.set_ylabel(ylab, fontsize=17.5, fontweight='bold', color=dark)
    ax.yaxis.set_label_coords(-0.042, 0.5)

    leg = ax.legend(loc='upper right', bbox_to_anchor=anchor, borderaxespad=0,
                    fontsize=15, frameon=True, fancybox=False, framealpha=1,
                    edgecolor='black', handlelength=1.25, handletextpad=0.1,
                    borderpad=0.3, labelspacing=0.12)
    leg.get_frame().set_linewidth(1.6)
    for t in leg.get_texts():
        t.set_fontweight('bold')
        t.set_color('black')

ax1.set_title("(UVMFR-CIMEL)/UVMFR %", fontsize=18, fontweight='bold',
              color=dark, pad=8)
ax2.set_xlabel("AAOD", fontsize=17, fontweight='bold', color=dark)
ax2.xaxis.set_label_coords(0.5, -0.165)

fig.savefig('out.png', dpi=100)
